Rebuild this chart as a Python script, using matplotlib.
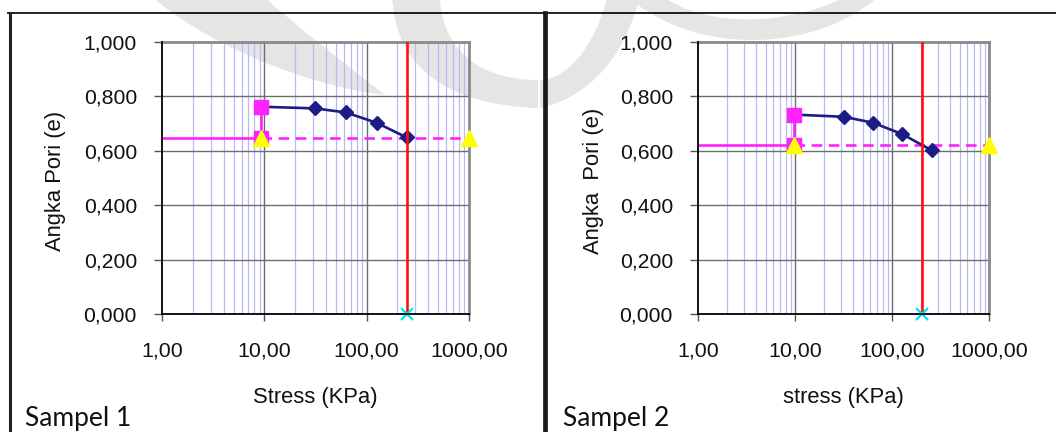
import matplotlib
matplotlib.use('Agg')
import matplotlib.pyplot as plt
from matplotlib.path import Path
from matplotlib.patches import PathPatch
from matplotlib.lines import Line2D
from matplotlib.ticker import FixedLocator, FixedFormatter, NullFormatter

# ---------------- data ----------------
stress1 = [9.3, 31.25, 62.5, 125.0, 246.0]
e1 = [0.762, 0.756, 0.741, 0.703, 0.649]
stress2 = [9.85, 32.0, 64.0, 128.0, 256.0]
e2 = [0.733, 0.725, 0.703, 0.661, 0.602]
e_ref1 = 0.648
e_ref2 = 0.621
pc1 = 250.0
pc2 = 206.0
x_start = 1.0
x_end = 1000.0

ytick_values = [0.0, 0.2, 0.4, 0.6, 0.8, 1.0]
ytick_labels = ['0,000', '0,200', '0,400', '0,600', '0,800', '1,000']
xtick_values = [1, 10, 100, 1000]
xtick_labels = ['1,00', '10,00', '100,00', '1000,00']
sample_names = ['Sampel 1', 'Sampel 2']
xlabels = ['Stress (KPa)', 'stress (KPa)']
ylabels = ['Angka Pori (e)', 'Angka  Pori (e)']

# ---------------- figure ----------------
W, H = 1056, 432
fig = plt.figure(figsize=(W / 100, H / 100), dpi=100)
fig.patch.set_facecolor('white')


def fx(x):
    return x / W


def fy(y):
    return 1 - y / H


# watermark (faint logo shapes)
wm_color = '#e5e5e5'
shapes = [
    [(150, -5), (200, 40), (300, 85), (385, 95), (340, 60), (295, 25), (262, -5)],
    [(392, -5), (395, 70), (450, 105), (538, 108), (538, 80), (470, 80), (440, 40), (440, -5)],
    [(540, 108), (600, 95), (630, 40), (640, -5), (608, -5), (595, 45), (570, 78), (540, 80)],
    [(625, -5), (700, 60), (820, 50), (880, -5), (850, -5), (790, 25), (710, 30), (660, -5)],
]
for pts in shapes:
    n = len(pts)
    if n == 7:
        codes = [Path.MOVETO, Path.CURVE4, Path.CURVE4, Path.CURVE4,
                 Path.CURVE4, Path.CURVE4, Path.CURVE4]
    else:
        codes = [Path.MOVETO, Path.CURVE4, Path.CURVE4, Path.CURVE4,
                 Path.LINETO, Path.CURVE4, Path.CURVE4, Path.CURVE4]
    verts = [(fx(a), fy(b)) for a, b in pts] + [(fx(pts[0][0]), fy(pts[0][1]))]
    codes = codes + [Path.CLOSEPOLY]
    fig.patches.append(PathPatch(Path(verts, codes), transform=fig.transFigure,
                                 facecolor=wm_color, edgecolor='none', zorder=-10))

# frame lines
frame = dict(transform=fig.transFigure, zorder=5)
fig.lines.append(Line2D([fx(8), fx(W)], [fy(13), fy(13)], color='#111111', lw=1.3, **frame))
fig.lines.append(Line2D([fx(9.5), fx(9.5)], [fy(13), fy(H)], color='#222222', lw=2.2, **frame))
fig.lines.append(Line2D([fx(545), fx(545)], [fy(13), fy(H)], color='#1a1a1a', lw=3.4, **frame))

axes_px = [(162, 469), (698, 989)]
ylabel_x = [-0.313, -0.323]
sample_x = [25, 563]
stresses = [stress1, stress2]
evals = [e1, e2]
erefs = [e_ref1, e_ref2]
pcs = [pc1, pc2]

magenta = '#ff22ff'
navy = '#1c1c84'

for i in range(2):
    l, r = axes_px[i]
    ax = fig.add_axes([fx(l), fy(314), (r - l) / W, 272 / H])
    ax.set_facecolor('none')
    ax.set_xscale('log')
    ax.set_xlim(x_start, x_end)
    ax.set_ylim(0, 1)

    # grids
    minor = [m * 10 ** d for d in range(0, 3) for m in range(2, 10)]
    for xv in minor:
        ax.axvline(xv, color='#b8b8f4', lw=0.9, zorder=1)
    for xv in xtick_values[1:-1]:
        ax.axvline(xv, color='#6e6e6e', lw=1.0, zorder=1.5)
    for yv in ytick_values[1:-1]:
        ax.axhline(yv, color='#6e6e6e', lw=1.0, zorder=1.5)

    s = stresses[i]
    e = evals[i]
    er = erefs[i]
    # magenta reference lines
    ax.plot([x_start, s[0]], [er, er], color=magenta, lw=1.9, zorder=3)
    ax.plot([s[0], x_end], [er, er], color=magenta, lw=1.9, ls=(0, (4, 2.5)), zorder=3)
    ax.plot([s[0], s[0]], [er, e[0]], color=magenta, lw=1.9, zorder=3)
    # consolidation curve
    ax.plot(s, e, color=navy, lw=1.9, zorder=4)
    ax.plot(s[1:], e[1:], ls='none', marker='D', ms=7.5, color=navy, zorder=4)
    # squares
    ax.plot([s[0], s[0]], [e[0], er], ls='none', marker='s', ms=10, color=magenta,
            zorder=5, clip_on=False)
    # triangles
    ax.plot([s[0], x_end], [er, er], ls='none', marker='^', ms=11.5, color='#ffff00',
            zorder=6, clip_on=False)
    # preconsolidation line
    ax.plot([pcs[i], pcs[i]], [0, 1], color='#ff1010', lw=1.9, zorder=5)
    ax.plot([pcs[i]], [0], ls='none', marker='x', ms=9, mew=1.6, color='#00e5ee',
            zorder=7, clip_on=False)

    # spines
    for sp in ['left', 'bottom']:
        ax.spines[sp].set_color('#000000')
        ax.spines[sp].set_linewidth(1.3)
        ax.spines[sp].set_zorder(8)
    for sp in ['top', 'right']:
        ax.spines[sp].set_color('#8a8a8a')
        ax.spines[sp].set_linewidth(2.0)

    ax.xaxis.set_major_locator(FixedLocator(xtick_values))
    ax.xaxis.set_major_formatter(FixedFormatter(xtick_labels))
    ax.xaxis.set_minor_locator(FixedLocator([]))
    ax.xaxis.set_minor_formatter(NullFormatter())
    ax.yaxis.set_major_locator(FixedLocator(ytick_values))
    ax.yaxis.set_major_formatter(FixedFormatter(ytick_labels))
    ax.tick_params(axis='x', direction='out', length=5, width=1, color='#555555', pad=15)
    ax.tick_params(axis='y', direction='out', length=6, width=1, color='#555555', pad=12)
    for lab in ax.get_xticklabels():
        lab.set_fontfamily('Liberation Sans')
        lab.set_fontsize(15.4)
        lab.set_color('#111111')
    for lab in ax.get_yticklabels():
        lab.set_fontfamily('Liberation Sans')
        lab.set_fontsize(15.2)
        lab.set_color('#111111')

    ax.set_xlabel(xlabels[i], fontfamily='Liberation Sans', fontsize=15.8, color='#111111')
    ax.xaxis.set_label_coords(0.5, -0.268)
    ax.set_ylabel(ylabels[i], fontfamily='Liberation Sans', fontsize=15.8, color='#111111')
    ax.yaxis.set_label_coords(ylabel_x[i], 0.49)

    fig.text(fx(sample_x[i]), fy(426), sample_names[i], family='Lato', fontsize=19,
             color='#111111', ha='left', va='baseline')

fig.savefig('out.png', dpi=100)
